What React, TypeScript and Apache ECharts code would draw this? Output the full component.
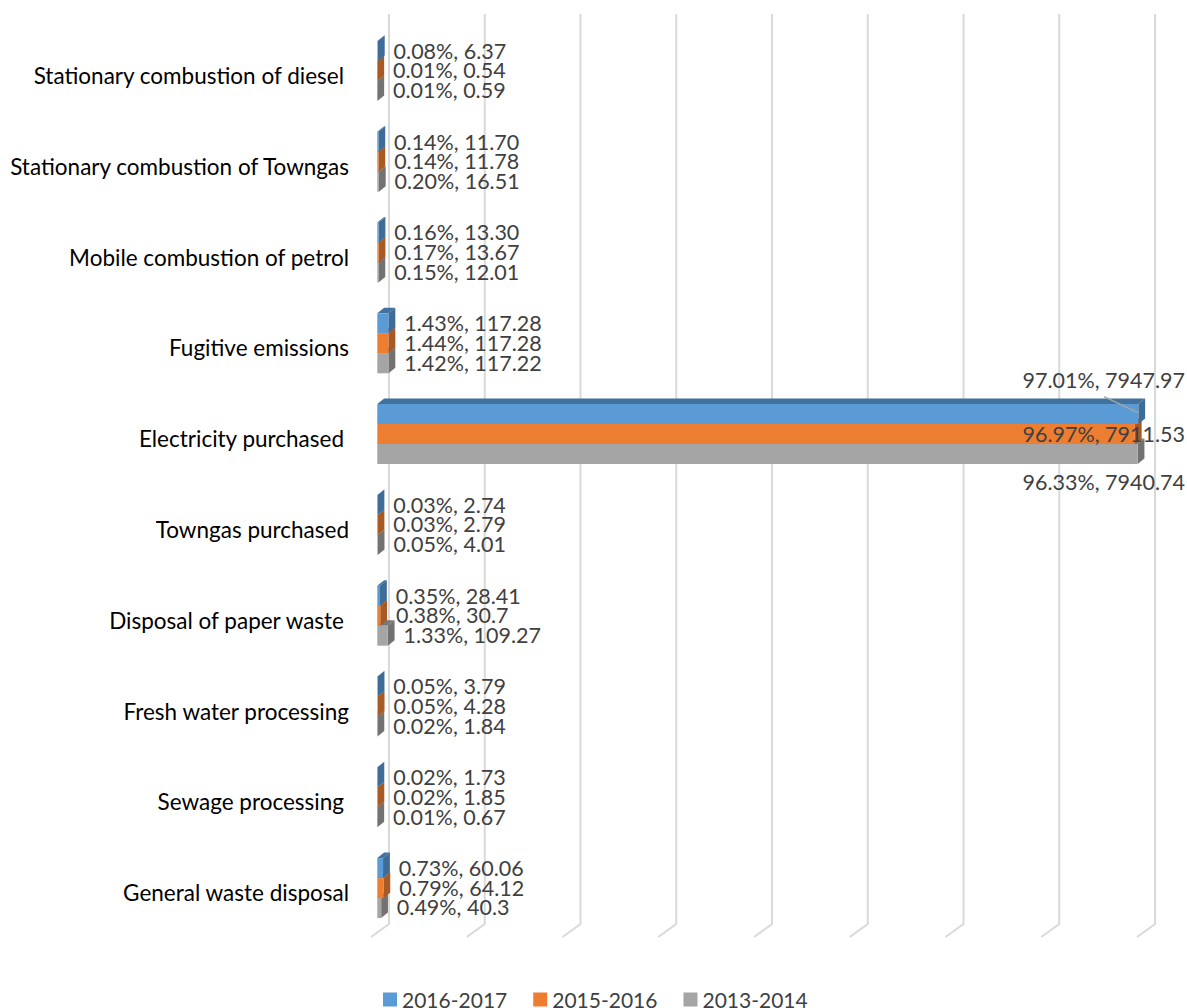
import React, { useEffect, useRef } from "react";
import * as echarts from "echarts";

const categories = [
  "Stationary combustion of diesel",
  "Stationary combustion of Towngas",
  "Mobile combustion of petrol",
  "Fugitive emissions",
  "Electricity purchased",
  "Towngas purchased",
  "Disposal of paper waste",
  "Fresh water processing",
  "Sewage processing",
  "General waste disposal",
];
// Category names whose label sits slightly further from the axis
const indentedCategories = [0, 4, 6, 8];

const values2016 = [6.37, 11.7, 13.3, 117.28, 7947.97, 2.74, 28.41, 3.79, 1.73, 60.06];
const values2015 = [0.54, 11.78, 13.67, 117.28, 7911.53, 2.79, 30.7, 4.28, 1.85, 64.12];
const values2013 = [0.59, 16.51, 12.01, 117.22, 7940.74, 4.01, 109.27, 1.84, 0.67, 40.3];

const labels2016 = ["0.08%, 6.37", "0.14%, 11.70", "0.16%, 13.30", "1.43%, 117.28", "97.01%, 7947.97", "0.03%, 2.74", "0.35%, 28.41", "0.05%, 3.79", "0.02%, 1.73", "0.73%, 60.06"];
const labels2015 = ["0.01%, 0.54", "0.14%, 11.78", "0.17%, 13.67", "1.44%, 117.28", "96.97%, 7911.53", "0.03%, 2.79", "0.38%, 30.7", "0.05%, 4.28", "0.02%, 1.85", "0.79%, 64.12"];
const labels2013 = ["0.01%, 0.59", "0.20%, 16.51", "0.15%, 12.01", "1.42%, 117.22", "96.33%, 7940.74", "0.05%, 4.01", "1.33%, 109.27", "0.02%, 1.84", "0.01%, 0.67", "0.49%, 40.3"];

const wallTicks = [0, 1000, 2000, 3000, 4000, 5000, 6000, 7000, 8000];

const FONT = "Lato";
const TEXT_COLOR = "#404040";
const BAR_HEIGHT = 20;
const BAR_SHIFT = [6.3, -4.5];
const BAR_DEPTH = [6.8, -5.5];
const WALL_SHIFT = [18, -13];
const WALL_OVERHANG = 3;
const FLOOR_LIFT = 1;
const ELECTRICITY = 4;

const yearSeries = [
  { name: "2016-2017", values: values2016, labels: labels2016, front: "#5B9BD5", top: "#41719C", side: "#3C6C97", row: -1, z: 5 },
  { name: "2015-2016", values: values2015, labels: labels2015, front: "#ED7D31", top: "#AE5A21", side: "#A85A25", row: 0, z: 4 },
  { name: "2013-2014", values: values2013, labels: labels2013, front: "#A5A5A5", top: "#787878", side: "#727272", row: 1, z: 3 },
];

// Oblique bar: a front face plus top and side faces receding into the chart
function renderBar(row: number, front: string, top: string, side: string) {
  return (_params: any, api: any) => {
    const end = api.coord([api.value(0), api.value(1)]);
    const start = api.coord([0, api.value(1)]);
    const x0 = start[0] + BAR_SHIFT[0];
    const x1 = end[0] + BAR_SHIFT[0];
    const y0 = end[1] + BAR_SHIFT[1] + row * BAR_HEIGHT - BAR_HEIGHT / 2;
    const y1 = y0 + BAR_HEIGHT;
    const [dx, dy] = BAR_DEPTH;
    return {
      type: "group",
      children: [
        {
          type: "polygon",
          shape: { points: [[x1, y0], [x1 + dx, y0 + dy], [x1 + dx, y1 + dy], [x1, y1]] },
          style: { fill: side },
        },
        {
          type: "polygon",
          shape: { points: [[x0, y0], [x0 + dx, y0 + dy], [x1 + dx, y0 + dy], [x1, y0]] },
          style: { fill: top },
        },
        { type: "rect", shape: { x: x0, y: y0, width: x1 - x0, height: BAR_HEIGHT }, style: { fill: front } },
      ],
    };
  };
}

// Value labels sit beside each bar; the long electricity bar has hand-placed ones
function renderLabel(row: number, labels: string[]) {
  return (_params: any, api: any) => {
    const cat = api.value(1);
    const end = api.coord([api.value(0), cat]);
    const text = labels[cat];
    const y = end[1] - 5 + row * 19.7;
    const font = `21.5px ${FONT}`;
    if (cat === ELECTRICITY) {
      const anchor = api.coord([8000, cat]);
      const offsets: Record<string, number> = { "-1": -54, "0": 0, "1": 48 };
      const children: any[] = [
        {
          type: "text",
          style: {
            x: anchor[0] + 48,
            y: anchor[1] + offsets[String(row)] - 5,
            text,
            font,
            lineHeight: 18,
            fill: TEXT_COLOR,
            textAlign: "right",
            textVerticalAlign: "middle",
          },
        },
      ];
      if (row === -1) {
        children.push({
          type: "line",
          shape: { x1: anchor[0] - 33, y1: anchor[1] - 42, x2: anchor[0] + 1, y2: anchor[1] - 26 },
          style: { stroke: "#A6A6A6", lineWidth: 1.5 },
        });
      }
      return { type: "group", children };
    }
    return {
      type: "text",
      style: {
        x: end[0] + 22,
        y,
        text,
        font,
        lineHeight: 18,
        fill: TEXT_COLOR,
        textAlign: "left",
        textVerticalAlign: "middle",
      },
    };
  };
}

// Back-wall gridline with its short foot running forward across the floor
function renderWallLine(_params: any, api: any) {
  const halfBand = api.size([0, 1])[1] / 2;
  const foot = api.coord([api.value(0), categories.length - 1]);
  const head = api.coord([api.value(0), 0]);
  const floorY = foot[1] + halfBand - FLOOR_LIFT;
  const wallX = foot[0] + WALL_SHIFT[0];
  const wallBottom = floorY + WALL_SHIFT[1];
  const wallTop = head[1] - halfBand + WALL_SHIFT[1] - WALL_OVERHANG;
  return {
    type: "polyline",
    shape: { points: [[wallX, wallTop], [wallX, wallBottom], [foot[0], floorY]] },
    style: { stroke: "#D9D9D9", lineWidth: 2, fill: "none" },
  };
}

export default function App() {
  const ref = useRef<HTMLDivElement>(null);

  useEffect(() => {
    const chart = echarts.init(ref.current!, undefined, { renderer: "svg" });
    const rich = {
      plain: { fontFamily: FONT, fontSize: 22.5, color: "#000000", padding: [0, 0, 0, 0] },
      indent: { fontFamily: FONT, fontSize: 22.5, color: "#000000", padding: [0, 5, 0, 0] },
    };
    chart.setOption({
      animation: false,
      backgroundColor: "#FFFFFF",
      textStyle: { fontFamily: FONT },
      legend: {
        top: 989,
        left: 383,
        padding: 0,
        itemWidth: 14,
        itemHeight: 14,
        itemGap: 26,
        icon: "rect",
        textStyle: { fontFamily: FONT, fontSize: 21, lineHeight: 18, color: TEXT_COLOR },
        data: yearSeries.map((s) => s.name),
      },
      grid: { left: 371, width: 766, top: 30, height: 908 },
      xAxis: {
        type: "value",
        min: 0,
        max: 8000,
        interval: 1000,
        axisLabel: { show: false },
        axisLine: { show: false },
        axisTick: { show: false },
        splitLine: { show: false },
      },
      yAxis: {
        type: "category",
        inverse: true,
        data: categories,
        axisLine: { show: false },
        axisTick: { show: false },
        splitLine: { show: false },
        axisLabel: {
          margin: 22,
          interval: 0,
          formatter: (name: string) =>
            `{${indentedCategories.includes(categories.indexOf(name)) ? "indent" : "plain"}|${name}}`,
          rich,
        },
      },
      series: [
        {
          type: "custom",
          name: "wall",
          silent: true,
          z: 1,
          renderItem: renderWallLine,
          encode: { x: 0 },
          data: wallTicks.map((t) => [t]),
        },
        ...yearSeries.map((s) => ({
          type: "custom",
          name: s.name,
          z: s.z,
          itemStyle: { color: s.front },
          encode: { x: 0, y: 1 },
          renderItem: renderBar(s.row, s.front, s.top, s.side),
          data: s.values.map((v, i) => [v, i]),
        })),
        ...yearSeries.map((s) => ({
          type: "custom",
          name: `${s.name} labels`,
          silent: true,
          z: 10,
          encode: { x: 0, y: 1 },
          renderItem: renderLabel(s.row, s.labels),
          data: s.values.map((v, i) => [v, i]),
        })),
      ],
    });
    return () => chart.dispose();
  }, []);

  return <div ref={ref} style={{ position: "absolute", left: 0, top: 0, width: 1187, height: 1008 }} />;
}
